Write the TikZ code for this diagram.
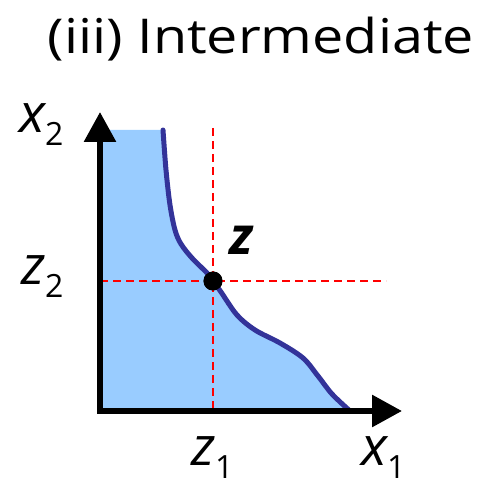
\documentclass[tikz,border=0pt]{standalone}
\usepackage{fontspec}
\setmainfont{Open Sans}
\usetikzlibrary{arrows.meta}
\definecolor{regfill}{HTML}{99CCFF}
\definecolor{curveblue}{HTML}{333399}
\tikzset{
  guide/.style={red, line width=1.6pt, dash pattern=on 8pt off 5pt},
  axis/.style={line width=6pt, miter limit=10, {Triangle[length=30pt,width=31pt]}-{Triangle[length=30pt,width=31pt]}},
  frontier/.style={curveblue, line width=5pt, line cap=round},
  lbl/.style={inner sep=0pt, font=\fontsize{54}{56}\selectfont\itshape},
}
\newcommand{\subs}[1]{\raisebox{-0.24em}{\fontsize{32}{34}\selectfont\upshape #1}}
\begin{document}
\begin{tikzpicture}[x=1pt,y=-1pt]
\useasboundingbox (0,0) rectangle (488,486);
\node[inner sep=0pt, font=\fontsize{48}{50}\selectfont, xscale=1.16] (title) at (261,39) {(iii) Intermediate};
\coordinate (o) at (100,411);
\coordinate (ytip) at (100,112);
\coordinate (xtip) at (402,411);
\coordinate (ftop) at (163,130);
\coordinate (fbot) at (350,411);
\fill[regfill] (100,130) -- plot[smooth, tension=0.55] coordinates {(163,130) (166,170) (170,205) (175,230) (181,244) (192,258) (207,273) (213,281) (221,292) (237,315) (255,330) (280,343) (303,358) (318,376) (332,394) (350,411)}
  -- (o) -- cycle;
\node[circle, fill=black, inner sep=0pt, minimum size=19pt] (z) at (213,281) {};
\coordinate (vtop) at (213,128);
\coordinate (vbot) at (213,411);
\coordinate (hleft) at (100,281);
\coordinate (hright) at (386,281);
\draw[guide] (vtop) -- (vbot);
\draw[guide] (hleft) -- (hright);
\draw[frontier] plot[smooth, tension=0.55] coordinates {(163,130) (166,170) (170,205) (175,230) (181,244) (192,258) (207,273) (213,281) (221,292) (237,315) (255,330) (280,343) (303,358) (318,376) (332,394) (350,411)};
\draw[axis] (ytip) -- (o) -- (xtip);
\node[circle, fill=black, inner sep=0pt, minimum size=19pt] at (z) {};
\node[lbl, font=\fontsize{52}{54}\selectfont\itshape\bfseries, anchor=base west] (zl) at (229,255) {z};
\node[lbl, anchor=base west] (z2) at (21,285) {z\subs{2}};
\node[lbl, anchor=base west] (x2) at (19,133) {x\subs{2}};
\node[lbl, anchor=base west] (z1) at (191,466) {z\subs{1}};
\node[lbl, anchor=base west] (x1) at (361,466) {x\subs{1}};
\end{tikzpicture}
\end{document}
